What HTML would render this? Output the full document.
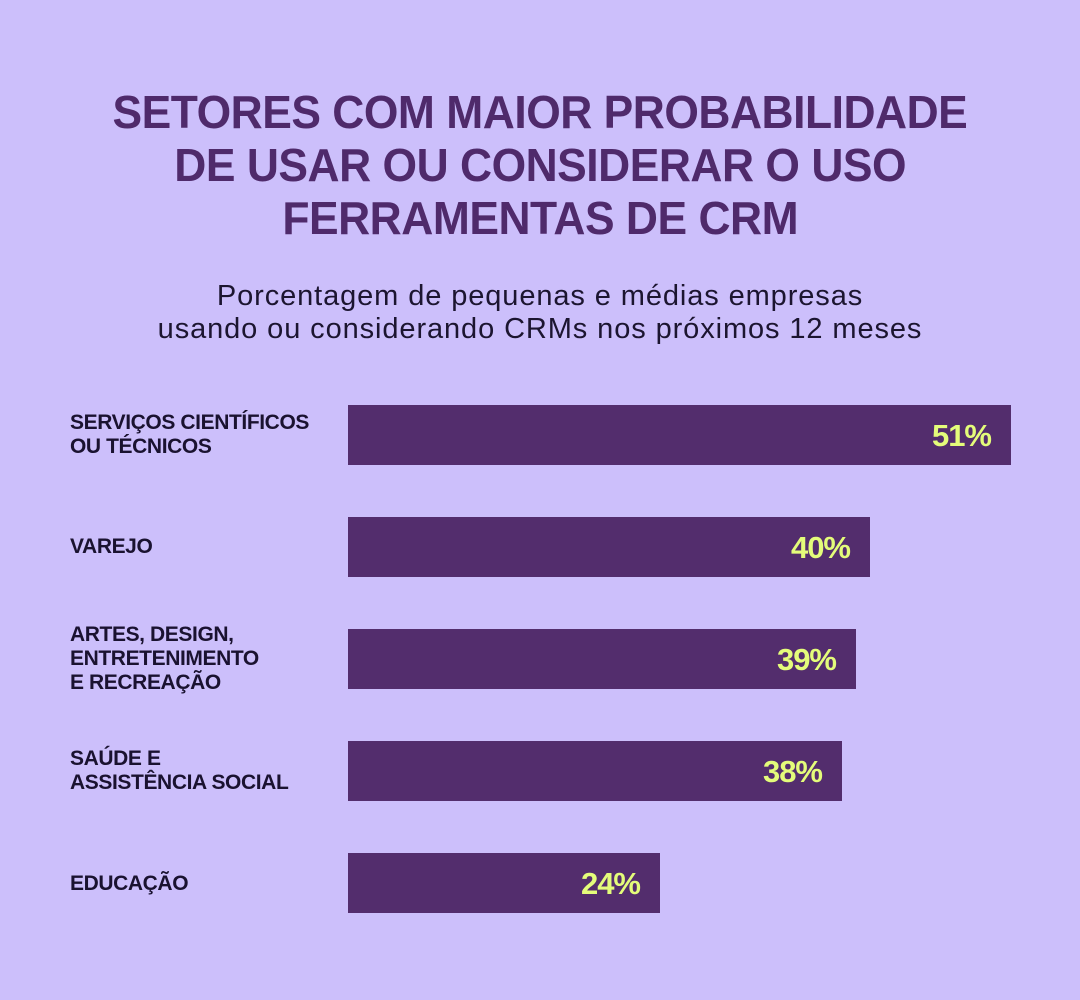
<!DOCTYPE html>
<html><head><meta charset="utf-8"><style>
body{margin:0;width:1080px;height:1000px;background:#CCBFFB;position:relative;overflow:hidden;font-family:"Liberation Sans",sans-serif}
.t{position:absolute;left:0;width:1080px;text-align:center;color:#4F2A6B;font-weight:bold;font-size:46px;line-height:53px;top:86px;letter-spacing:-0.5px}
.t span{display:inline-block;transform:scaleX(0.965);white-space:nowrap}
.s{position:absolute;left:0;width:1080px;text-align:center;color:#1c1530;font-size:29px;line-height:33px;top:280px;letter-spacing:0.9px}
.l{position:absolute;left:70px;color:#1a1230;font-size:21px;font-weight:bold;line-height:24px;letter-spacing:-0.4px}
.b{position:absolute;left:348px;height:60px;background:#532D6D;box-sizing:border-box}
.b span{position:absolute;right:20px;top:13px;color:#E4FC7A;font-weight:bold;font-size:31px;letter-spacing:-1px}
</style></head><body>
<div class="t"><span>SETORES COM MAIOR PROBABILIDADE</span><br><span>DE USAR OU CONSIDERAR O USO</span><br><span>FERRAMENTAS DE CRM</span></div>
<div class="s">Porcentagem de pequenas e médias empresas<br>usando ou considerando CRMs nos próximos 12 meses</div>
<div class="l" style="top:411px">SERVIÇOS CIENTÍFICOS<br>OU TÉCNICOS</div>
<div class="b" style="top:405px;width:663px"><span>51%</span></div>
<div class="l" style="top:535px">VAREJO</div>
<div class="b" style="top:517px;width:522px"><span>40%</span></div>
<div class="l" style="top:623px">ARTES, DESIGN,<br>ENTRETENIMENTO<br>E RECREAÇÃO</div>
<div class="b" style="top:629px;width:508px"><span>39%</span></div>
<div class="l" style="top:747px">SAÚDE E<br>ASSISTÊNCIA SOCIAL</div>
<div class="b" style="top:741px;width:494px"><span>38%</span></div>
<div class="l" style="top:872px">EDUCAÇÃO</div>
<div class="b" style="top:853px;width:312px"><span>24%</span></div>
</body></html>
